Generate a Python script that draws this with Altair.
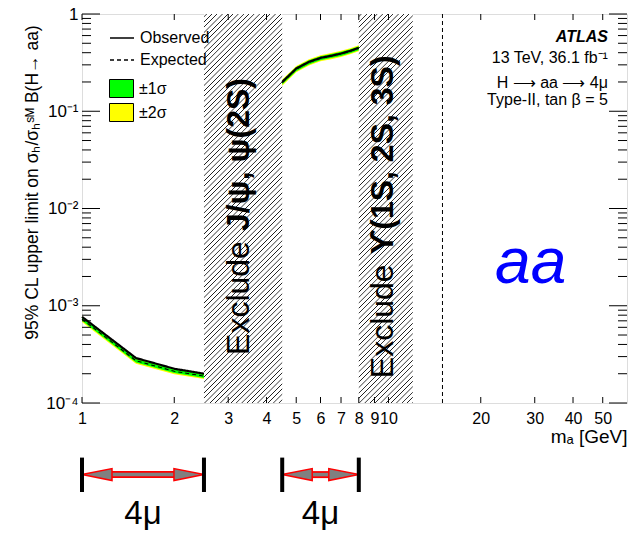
import math
import altair as alt
import pandas as pd

# ---------------- data ----------------
mass_low = [1.0, 1.5, 2.0, 2.5]
obs_low = [7.7e-4, 2.90e-4, 2.25e-4, 2.00e-4]
exp_low = [7.3e-4, 2.72e-4, 2.12e-4, 1.89e-4]
s1lo_low = [7.0e-4, 2.61e-4, 2.03e-4, 1.81e-4]
s1hi_low = [7.6e-4, 2.83e-4, 2.21e-4, 1.97e-4]
s2lo_low = [6.8e-4, 2.53e-4, 1.97e-4, 1.76e-4]
s2hi_low = [7.8e-4, 2.91e-4, 2.27e-4, 2.02e-4]

mass_mid = [4.5, 5.0, 5.5, 6.0, 6.5, 7.0, 7.5, 8.0]
obs_mid = [0.200, 0.275, 0.322, 0.354, 0.372, 0.392, 0.418, 0.449]
exp_mid = [0.197, 0.271, 0.318, 0.350, 0.369, 0.389, 0.414, 0.445]
s1lo_mid = [0.188, 0.258, 0.303, 0.334, 0.352, 0.371, 0.395, 0.425]
s1hi_mid = [0.207, 0.285, 0.334, 0.367, 0.387, 0.408, 0.434, 0.466]
s2lo_mid = [0.183, 0.252, 0.296, 0.326, 0.343, 0.362, 0.385, 0.414]
s2hi_mid = [0.212, 0.292, 0.342, 0.376, 0.397, 0.418, 0.445, 0.478]

excl_lo = [2.5, 8.0]
excl_hi = [4.5, 12.0]
excl_word = ["Exclude", "Exclude"]
excl_name = ["J/ψ, ψ(2S)", "ϒ(1S, 2S, 3S)"]
excl_text_y = [5.2e-3, 3.0e-3]
excl_dy = [-4, -3]

vline_x = [15.0]

arrow_lo = [1.0, 4.5]
arrow_hi = [2.5, 8.0]
arrow_label = ["4μ", "4μ"]

x_tick_vals = [1, 2, 3, 4, 5, 6, 7, 8, 9, 10, 20, 30, 40, 50]
y_major = [1e-4, 1e-3, 1e-2, 1e-1, 1.0]
y_minor = [m * 10.0 ** e for e in (-4, -3, -2, -1) for m in range(2, 10)]

info_lines = ["13 TeV, 36.1 fb⁻¹", "H ⟶ aa ⟶ 4μ", "Type-II, tan β = 5"]
info_y = [0.313, 0.173, 0.117]
atlas_y = [0.518]
info_x = 52.0
aa_x = [29.1]
aa_y = [1.71e-3]

# ---------------- layout ----------------
W, H = 545, 389
XMIN, XMAX = 1.0, 60.0
YMIN, YMAX = 1e-4, 1.0
FONT = "Liberation Sans, Arial, Helvetica, sans-serif"

XS = alt.Scale(type="log", domain=[XMIN, XMAX], nice=False)
YS = alt.Scale(type="log", domain=[YMIN, YMAX], nice=False)

rows = []
for seg, (ms, ob, ex, a, b, c, d) in enumerate([
        (mass_low, obs_low, exp_low, s1lo_low, s1hi_low, s2lo_low, s2hi_low),
        (mass_mid, obs_mid, exp_mid, s1lo_mid, s1hi_mid, s2lo_mid, s2hi_mid)]):
    for i in range(len(ms)):
        rows.append(dict(mass=ms[i], obs=ob[i], exp=ex[i], s1lo=a[i], s1hi=b[i],
                         s2lo=c[i], s2hi=d[i], seg=seg))
df = pd.DataFrame(rows)

base = alt.Chart(df)

XA = alt.Axis(values=x_tick_vals, format="d", ticks=False, tickSize=0, domain=False,
              grid=False, labelFontSize=16, labelFont=FONT, labelColor="black",
              labelPadding=7, labelFlush=False, labelOverlap=False,
              title="mₐ [GeV]", titleFont=FONT, titleFontSize=19,
              titleFontWeight="normal", titleColor="black", titleAnchor="end",
              titleAlign="right", titleBaseline="alphabetic", titleX=W, titleY=39)
YA = alt.Axis(values=y_major, ticks=False, tickSize=0, domain=False, grid=False,
              labelFontSize=17, labelFont=FONT, labelColor="black", labelPadding=4,
              labelFlush=False, labelOverlap=False,
              labelExpr="datum.value >= 0.5 ? '1' : datum.value >= 0.05 ? '10⁻¹' : "
                        "datum.value >= 0.005 ? '10⁻²' : datum.value >= 0.0005 ? '10⁻³' : '10⁻⁴'",
              title="95% CL upper limit on σₕ/σₕˢᴹ B(H→ aa)", titleFont=FONT,
              titleFontSize=17.5, titleFontWeight="normal", titleColor="black",
              titleAngle=270, titleBaseline="middle", titleX=-50, titleY=168)


def X(field):
    return alt.X(field, scale=XS, axis=XA)


def Y(field):
    return alt.Y(field, scale=YS, axis=YA)


def XD(v):
    return alt.XDatum(v, scale=XS, axis=XA)


def YD(v):
    return alt.YDatum(v, scale=YS, axis=YA)


fill_scale = alt.Scale(domain=["±1σ", "±2σ"], range=["#00ff00", "#ffff00"])
fill_legend = alt.Legend(title=None, orient="none", legendX=27, legendY=62, padding=0,
                         symbolType="M-1,-0.75H1V0.75H-1Z", symbolSize=576,
                         symbolStrokeColor="black", symbolStrokeWidth=1, symbolOpacity=1,
                         labelFontSize=16, labelFont=FONT, labelColor="black",
                         labelOffset=5, rowPadding=0)
dash_scale = alt.Scale(domain=["Observed", "Expected"], range=[[1, 0], [4, 3]])
dash_legend = alt.Legend(title=None, orient="none", legendX=27, legendY=11, padding=0,
                         symbolType="stroke", symbolSize=576, symbolStrokeColor="black",
                         symbolStrokeWidth=1.6, labelFontSize=16, labelFont=FONT,
                         labelColor="black", labelOffset=5, rowPadding=1)


def hatch_fill(lo, hi, period=5.3):
    w = W * math.log(hi / lo) / math.log(XMAX / XMIN)
    h = H
    a = (w + h) * w / (w * w + h * h)
    b = (w + h) * h / (w * w + h * h)
    S = w + h
    stops = [alt.GradientStop(offset=0, color="white")]
    c = period / 2
    while c < S:
        for off, col in [(c - 0.75, "white"), (c - 0.2, "#222222"),
                         (c + 0.2, "#222222"), (c + 0.75, "white")]:
            o = round(min(max(off / S, 0.0), 1.0), 6)
            stops.append(alt.GradientStop(offset=o, color=col))
        c += period
    stops.append(alt.GradientStop(offset=1, color="white"))
    return alt.LinearGradient(gradient="linear", stops=stops, x1=0, y1=0, x2=a, y2=b)


excl_df = pd.DataFrame(dict(lo=excl_lo, hi=excl_hi, word=excl_word, name=excl_name,
                            ty=excl_text_y))
layers = []
for i in range(len(excl_lo)):
    layers.append(
        alt.Chart(excl_df.iloc[[i]]).mark_rect(fill=hatch_fill(excl_lo[i], excl_hi[i]),
                                                strokeWidth=0)
        .encode(x=X("lo:Q"), x2="hi:Q"))

# bands
band2 = base.transform_calculate(band="'±2σ'").mark_area(opacity=1, interpolate="linear").encode(
    x=X("mass:Q"), y=Y("s2lo:Q"), y2="s2hi:Q", detail="seg:N",
    fill=alt.Fill("band:N", scale=fill_scale, legend=fill_legend))
band1 = base.transform_calculate(band="'±1σ'").mark_area(opacity=1, interpolate="linear").encode(
    x=X("mass:Q"), y=Y("s1lo:Q"), y2="s1hi:Q", detail="seg:N",
    fill=alt.Fill("band:N", scale=fill_scale, legend=fill_legend))
exp_line = base.transform_calculate(series="'Expected'").mark_line(
    color="black", strokeWidth=1.1).encode(
    x=X("mass:Q"), y=Y("exp:Q"), detail="seg:N",
    strokeDash=alt.StrokeDash("series:N", scale=dash_scale, legend=dash_legend))
obs_line = base.transform_calculate(series="'Observed'").mark_line(
    color="black", strokeWidth=2.2).encode(
    x=X("mass:Q"), y=Y("obs:Q"), detail="seg:N",
    strokeDash=alt.StrokeDash("series:N", scale=dash_scale, legend=dash_legend))
layers += [band2, band1, exp_line, obs_line]

# dashed vertical line
layers.append(alt.Chart(pd.DataFrame(dict(v=vline_x))).mark_rule(
    color="black", strokeWidth=1, strokeDash=[4, 3]).encode(x=X("v:Q")))

# inward ticks (ROOT style)
xt = pd.DataFrame(dict(v=x_tick_vals))
layers.append(alt.Chart(xt).mark_rule(color="black", strokeWidth=1, y2Offset=-6).encode(
    x=X("v:Q"), y=YD(YMIN), y2=alt.Y2Datum(YMIN)))
layers.append(alt.Chart(xt).mark_rule(color="black", strokeWidth=1, y2Offset=6).encode(
    x=X("v:Q"), y=YD(YMAX), y2=alt.Y2Datum(YMAX)))
for vals, ln in [(y_major, 18), (y_minor, 9)]:
    yt = pd.DataFrame(dict(v=vals))
    layers.append(alt.Chart(yt).mark_rule(color="black", strokeWidth=1, x2Offset=ln).encode(
        y=Y("v:Q"), x=XD(XMIN), x2=alt.X2Datum(XMIN)))
    layers.append(alt.Chart(yt).mark_rule(color="black", strokeWidth=1, x2Offset=-ln).encode(
        y=Y("v:Q"), x=XD(XMAX), x2=alt.X2Datum(XMAX)))

# exclusion texts
for i in range(len(excl_lo)):
    ci = alt.Chart(excl_df.iloc[[i]]).transform_calculate(xc="sqrt(datum.lo*datum.hi)")
    layers.append(ci.mark_text(angle=270, align="right", baseline="middle", dx=-5,
                               dy=excl_dy[i], fontSize=32, font=FONT, color="black").encode(
        x=X("xc:Q"), y=Y("ty:Q"), text="word:N"))
    layers.append(ci.mark_text(angle=270, align="left", baseline="middle", dx=5,
                               dy=excl_dy[i], fontSize=32, font=FONT, fontWeight="bold",
                               color="black").encode(
        x=X("xc:Q"), y=Y("ty:Q"), text="name:N"))

# ATLAS label block
layers.append(alt.Chart(pd.DataFrame(dict(t=["ATLAS"], y=atlas_y))).mark_text(
    align="right", baseline="alphabetic", fontSize=16, font=FONT, fontWeight="bold",
    fontStyle="italic", color="black").encode(x=XD(info_x), y=Y("y:Q"), text="t:N"))
layers.append(alt.Chart(pd.DataFrame(dict(t=info_lines, y=info_y))).mark_text(
    align="right", baseline="alphabetic", fontSize=16, font=FONT, color="black").encode(
    x=XD(info_x), y=Y("y:Q"), text="t:N"))
layers.append(alt.Chart(pd.DataFrame(dict(t=["aa"], x=aa_x, y=aa_y))).mark_text(
    align="center", baseline="alphabetic", fontSize=64, font=FONT, fontStyle="italic",
    color="#0000ff").encode(x=X("x:Q"), y=Y("y:Q"), text="t:N"))

# 4mu arrows below the frame
arr_df = pd.DataFrame(dict(lo=arrow_lo, hi=arrow_hi, label=arrow_label))
arr = alt.Chart(arr_df)
AY = 71.6
layers.append(arr.mark_rule(color="red", strokeWidth=7, xOffset=26, x2Offset=-26,
                            yOffset=AY, y2Offset=AY).encode(
    x=X("lo:Q"), x2="hi:Q", y=YD(YMIN)))
layers.append(arr.mark_rule(color="#808080", strokeWidth=3.5, xOffset=26, x2Offset=-26,
                            yOffset=AY, y2Offset=AY).encode(
    x=X("lo:Q"), x2="hi:Q", y=YD(YMIN)))
layers.append(arr.mark_point(shape="M0,0L1,-0.2L1,0.2Z", size=3600, filled=True,
                             fill="#808080", stroke="red", strokeWidth=1.5, opacity=1,
                             yOffset=AY).encode(x=X("lo:Q"), y=YD(YMIN)))
layers.append(arr.mark_point(shape="M0,0L-1,-0.2L-1,0.2Z", size=3600, filled=True,
                             fill="#808080", stroke="red", strokeWidth=1.5, opacity=1,
                             yOffset=AY).encode(x=X("hi:Q"), y=YD(YMIN)))
layers.append(arr.transform_fold(["lo", "hi"], as_=["end", "xe"]).mark_rule(
    color="black", strokeWidth=4, yOffset=54.6, y2Offset=89).encode(
    x=X("xe:Q"), y=YD(YMIN), y2=alt.Y2Datum(YMIN)))
layers.append(arr.transform_calculate(xc="sqrt(datum.lo*datum.hi)").mark_text(
    align="center", baseline="alphabetic", dy=120.5, fontSize=33, font=FONT,
    color="black").encode(x=X("xc:Q"), y=YD(YMIN), text="label:N"))

chart = alt.layer(*layers).properties(
    width=W, height=H,
    autosize=alt.AutoSizeParams(type="none"),
    padding={"left": 82, "top": 14, "right": 8, "bottom": 133},
).configure_view(stroke="black", strokeWidth=1.2).configure(background="white")

chart.save("out.html", embed_options={"renderer": "svg", "actions": False})
